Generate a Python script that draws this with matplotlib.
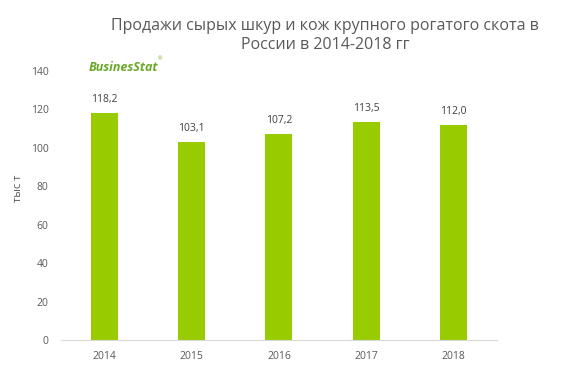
import numpy as np
import matplotlib.pyplot as plt

years = ['2014', '2015', '2016', '2017', '2018']
sales = [118.2, 103.1, 107.2, 113.5, 112.0]
labels = ['118,2', '103,1', '107,2', '113,5', '112,0']
yticks = [0, 20, 40, 60, 80, 100, 120, 140]

plt.rcParams['font.family'] = ['Open Sans', 'DejaVu Sans']

fig = plt.figure(figsize=(5.64, 3.9), dpi=100)
ax = fig.add_axes([0.108, 0.128, 0.773, 0.69])

x = np.arange(len(years))
bars = ax.bar(x, sales, width=0.31, color='#99cc00')
for b, t in zip(bars, labels):
    ax.text(b.get_x() + b.get_width() / 2, b.get_height() + 4, t,
            ha='center', va='bottom', fontsize=7.5, color='#404040')

ax.set_xlim(-0.5, 4.5)
ax.set_ylim(0, 140)
ax.set_xticks(x)
ax.set_xticklabels(years)
ax.set_yticks(yticks)
ax.tick_params(axis='both', length=0, labelsize=7.5, colors='#595959')
ax.tick_params(axis='x', pad=8)
ax.tick_params(axis='y', pad=9)
for s in ['top', 'right', 'left']:
    ax.spines[s].set_visible(False)
ax.spines['bottom'].set_color('#d9d9d9')

fig.text(0.032, 0.518, 'тыс т', rotation=90, ha='center', va='center',
         fontsize=8, color='#595959')

fig.text(0.576, 0.955, 'Продажи сырых шкур и кож крупного рогатого скота в\nРоссии в 2014-2018 гг',
         ha='center', va='top', fontsize=11.5, color='#595959', linespacing=1.3)

fig.text(0.158, 0.828, 'BusinesStat', ha='left', va='center', fontsize=9,
         fontweight='bold', style='italic', color='#6aa82a')
fig.text(0.28, 0.85, '®', ha='left', va='center', fontsize=4, color='#6aa82a')

fig.savefig('out.png', dpi=100)
